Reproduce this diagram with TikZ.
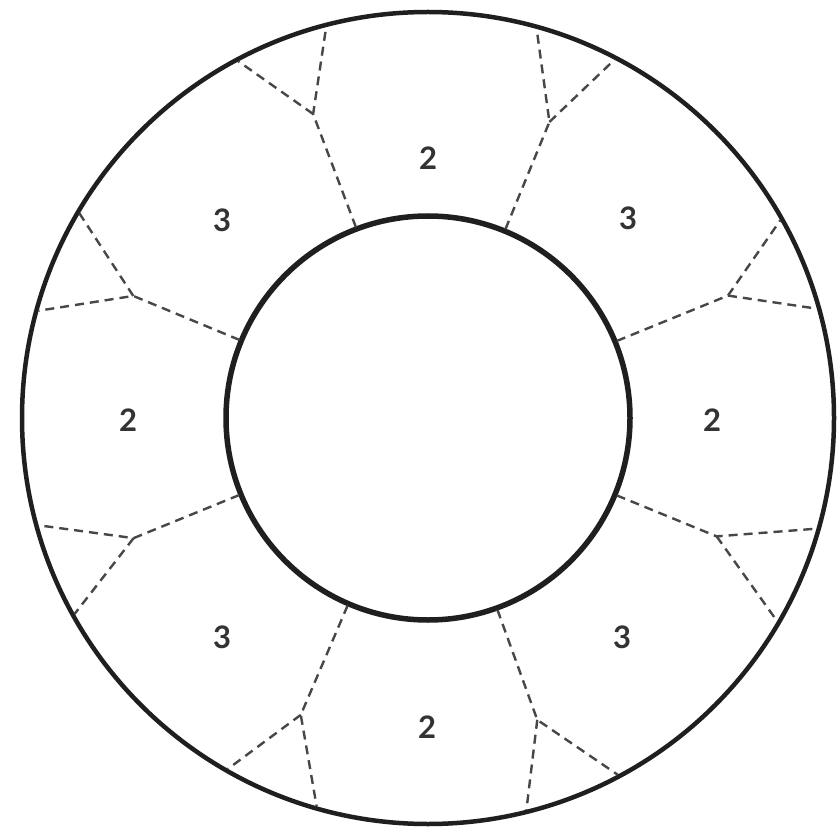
\documentclass[tikz,border=0pt]{standalone}
\usepackage{fontspec}
\setmainfont{Lato}
\usetikzlibrary{calc}
\begin{document}
\begin{tikzpicture}[x=1pt,y=1pt,
  ring/.style={draw=black!88, line width=4.5pt},
  divider/.style={draw=black!72, line width=2.4pt, dash pattern=on 9pt off 6pt},
  num/.style={font=\fontsize{31}{31}\selectfont\bfseries, text=black!80}]
\useasboundingbox (0,0) rectangle (837,831);
\fill[white] (0,0) rectangle (837,831);
\coordinate (c) at (428,413);
\draw[ring] (c) circle (406);
\draw[ring, line width=5.5pt] (c) circle (202);
\foreach \k/\t/\r/\a/\b in {1/110.7/325/104.6/118.0, 2/67.7/320/74.4/62.5,
  3/22.2/324/29.3/15.7, 4/-22.3/312/-15.9/-30.2, 5/-70.1/321/-62.0/-75.9,
  6/-113.2/323/-106.0/-119.7, 7/202.2/318/195.4/209.0, 8/157.5/319/164.6/149.6}{
  \coordinate (i\k) at ($(c)+(\t:204)$);
  \coordinate (j\k) at ($(c)+(\t:\r)$);
  \coordinate (oa\k) at ($(c)+(\a:404)$);
  \coordinate (ob\k) at ($(c)+(\b:404)$);
  \draw[divider] (i\k) -- (j\k) -- (oa\k);
  \draw[divider] (j\k) -- (ob\k);
}
\node[num] (n1) at (428,673) {2};
\node[num] (n2) at (222,611) {3};
\node[num] (n3) at (628,613) {3};
\node[num] (n4) at (128,411) {2};
\node[num] (n5) at (712,411) {2};
\node[num] (n6) at (222,194) {3};
\node[num] (n7) at (622,194) {3};
\node[num] (n8) at (427,104) {2};
\end{tikzpicture}
\end{document}
